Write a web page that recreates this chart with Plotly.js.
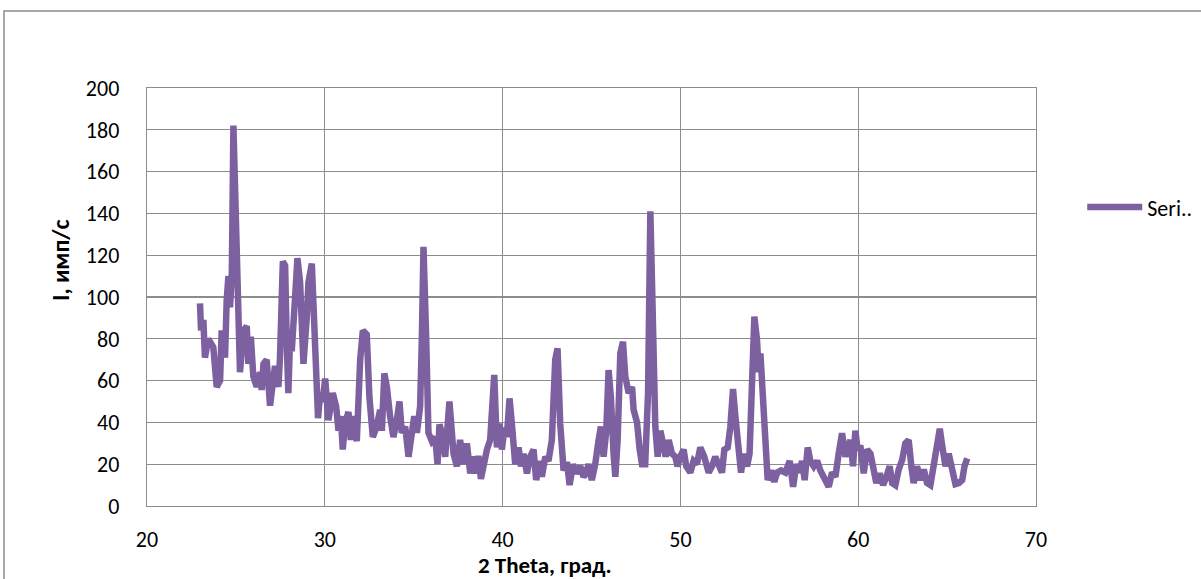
<!DOCTYPE html>
<html>
<head>
<meta charset="utf-8">
<script src="https://cdn.plot.ly/plotly-3.0.1.min.js"></script>
<style>html,body{margin:0;padding:0;background:#fff;}#chart{width:1201px;height:579px;}</style>
</head>
<body>
<div id="chart"></div>
<script>
var seriesName = "Seri..";
var xTitle = "2 Theta, град.";
var yTitle = "I, имп/с";

var theta = [
22.98,23.04,23.17,23.26,23.45,23.73,23.92,24.11,24.20,24.39,24.48,24.58,24.67,24.77,24.86,25.05,25.23,25.42,25.61,25.70,
25.84,25.98,26.17,26.36,26.45,26.55,26.73,26.92,27.11,27.20,27.39,27.48,27.64,27.77,27.86,27.95,28.05,28.14,28.33,28.46,
28.61,28.80,28.99,29.08,29.27,29.40,29.51,29.62,29.74,29.88,30.02,30.20,30.45,30.64,30.77,30.90,31.01,31.14,31.33,31.46,
31.61,31.80,31.99,32.14,32.36,32.51,32.70,32.92,33.11,33.21,33.35,33.49,33.67,33.86,34.05,34.20,34.33,34.52,34.71,34.90,
35.03,35.18,35.36,35.46,35.55,35.70,35.83,36.02,36.21,36.34,36.45,36.58,36.77,37.01,37.15,37.24,37.43,37.61,37.80,37.99,
38.18,38.36,38.55,38.64,38.78,38.93,39.12,39.30,39.40,39.53,39.68,39.83,39.96,40.11,40.24,40.39,40.52,40.71,40.90,41.03,
41.18,41.37,41.55,41.74,41.89,42.08,42.21,42.40,42.58,42.77,42.96,43.09,43.24,43.43,43.62,43.77,43.96,44.14,44.37,44.55,
44.65,44.84,45.02,45.21,45.40,45.53,45.68,45.83,45.96,46.09,46.24,46.34,46.47,46.62,46.77,46.90,47.09,47.28,47.37,47.56,
47.71,47.84,48.02,48.18,48.31,48.46,48.59,48.72,48.87,49.02,49.17,49.34,49.53,49.71,49.84,49.99,50.18,50.33,50.56,50.74,
50.93,51.12,51.34,51.59,51.78,51.96,52.15,52.34,52.47,52.66,52.81,52.96,53.09,53.28,53.41,53.56,53.75,53.89,54.03,54.16,
54.31,54.40,54.50,54.65,54.78,54.91,55.10,55.28,55.44,55.66,55.90,56.15,56.34,56.52,56.71,56.84,56.99,57.16,57.31,57.50,
57.69,57.87,58.15,58.34,58.53,58.72,58.90,59.09,59.28,59.37,59.56,59.71,59.84,59.97,60.12,60.31,60.50,60.69,60.87,61.02,
61.21,61.40,61.59,61.77,61.91,62.09,62.28,62.47,62.65,62.84,62.99,63.12,63.31,63.50,63.69,63.87,64.06,64.25,64.44,64.59,
64.72,64.91,65.09,65.28,65.47,65.66,65.85,65.98,66.13
];
var intensity = [
97,84,89,71,80,76,57,60,84,71,98,110,95,111,182,113,64,84,86,68,
81,62,57,64,55.5,68,70,48,62,67,57,71,117,115,78,54,81,74,100,118.6,
107,68,90.6,107,116,81,47.5,42,54,50,61,41,54,47.5,36,43,27,39.5,45,31.6,
43,31,70,84,82,52,33,38,46,36,63.5,57,43,33,41,50,35,38,23.6,35,
43,35,47.5,81,124,81,35,31,33,20,39,35,23.6,50,38,25,19,31.6,20,30,
15.6,23.6,15.6,24,13,20,27,31.6,47.5,62.7,28,39.5,27,37.5,33,51.5,39.5,20,28,19,
25,15.6,23.6,27,12.4,21.6,14,23.6,21.6,31.6,70,75.4,39.5,17,21,10,20,15.6,19,14,
15,20,12.4,20,31.6,38,23.6,36,65,52,25,14,31.6,73,78.6,62,54,57,46,40,
27,20,20,54,141,74.6,38,23.6,36,30,23.6,31.6,25,23.6,19,23.6,27,19,16,21.6,
20,28,23.6,16,19,23.6,20,16,27,28,38,56,43,30,16,25,19,25,62,90.6,
79.4,64,73,56,31.6,12.4,17,11.6,16,17,16,21.6,9.2,20,16,21.6,12.4,28,21.6,19,
21.6,17,12.4,9.2,16,14,25,34.8,23.6,27,31.6,19,36,27,29,15.6,27,25,19,11,
15.6,10,14,19,11,10,17.5,22,30,31.6,19,11,19,12.4,17.5,11,10,19,27,37,
29,19,25,15.6,10.5,11,12.4,19,22.8
];
var xTicks = [20,30,40,50,60,70];
var yTicks = [0,20,40,60,80,100,120,140,160,180,200];

var gridColor = "#8c8c8c";
var fontFam = 'Calibri, Carlito, "Noto Sans", "Open Sans", sans-serif';

var trace = {
  x: theta, y: intensity, type: "scatter", mode: "lines", name: seriesName,
  line: {color: "#7d60a0", width: 6.5},
  showlegend: true
};

var layout = {
  width: 1201, height: 579,
  margin: {l: 147, r: 165, t: 88, b: 73, autoexpand: false},
  paper_bgcolor: "#ffffff", plot_bgcolor: "#ffffff",
  font: {family: fontFam, size: 22, color: "#000"},
  xaxis: {
    range: [20, 70], tickvals: xTicks, ticktext: xTicks.map(String),
    showgrid: true, gridcolor: gridColor, gridwidth: 1.3,
    showline: true, linecolor: gridColor, linewidth: 1.3, mirror: true,
    zeroline: false, ticks: "", ticklabelstandoff: 13,
    tickfont: {family: fontFam, size: 22, color: "#000"}
  },
  yaxis: {
    range: [0, 200], tickvals: yTicks, ticktext: yTicks.map(String),
    showgrid: true, gridcolor: gridColor, gridwidth: 1.3,
    showline: true, linecolor: gridColor, linewidth: 1.3, mirror: true,
    zeroline: false, ticks: "", ticklabelstandoff: 22,
    tickfont: {family: fontFam, size: 22, color: "#000"}
  },
  legend: {
    x: 1.052, y: 0.715, xanchor: "left", yanchor: "middle",
    font: {family: fontFam, size: 22, color: "#000"},
    bgcolor: "rgba(0,0,0,0)", itemwidth: 55
  },
  annotations: [
    {text: "<b>" + xTitle + "</b>", xref: "paper", yref: "paper",
     x: (545 - 147) / 889, y: (506 - 565) / 418, xanchor: "center", yanchor: "middle",
     showarrow: false, font: {family: fontFam, size: 23, color: "#000"}},
    {text: "<b>" + yTitle + "</b>", xref: "paper", yref: "paper", textangle: -90,
     x: (60 - 147) / 889, y: (506 - 260) / 418, xanchor: "center", yanchor: "middle",
     showarrow: false, font: {family: fontFam, size: 24, color: "#000"}}
  ],
  shapes: [
    {type: "rect", xref: "paper", yref: "paper",
     x0: (4 - 147) / 889, x1: (1260 - 147) / 889,
     y0: (506 - 640) / 418, y1: (506 - 11) / 418,
     line: {color: "#8c8c8c", width: 1.5}, fillcolor: "rgba(0,0,0,0)", layer: "below"}
  ]
};

Plotly.newPlot("chart", [trace], layout, {displayModeBar: false, staticPlot: true});
</script>
</body>
</html>
